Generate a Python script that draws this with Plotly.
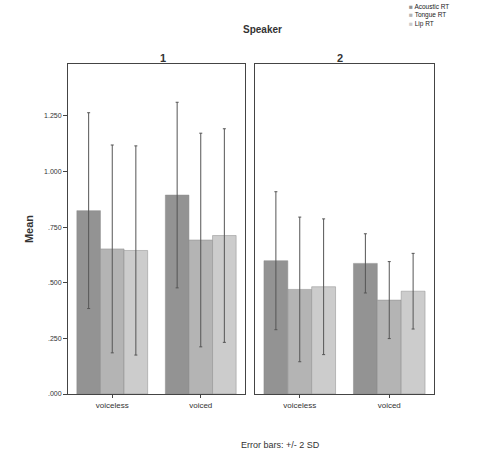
import plotly.graph_objects as go

categories = ["voiceless", "voiced"]
series_names = ["Acoustic RT", "Tongue RT", "Lip RT"]
colors = ["#939393", "#b4b4b4", "#cccccc"]

# Speaker 1 means and 2*SD
s1_acoustic = [0.824, 0.894]
s1_tongue = [0.652, 0.692]
s1_lip = [0.645, 0.712]
s1_acoustic_err = [0.44, 0.417]
s1_tongue_err = [0.467, 0.48]
s1_lip_err = [0.47, 0.48]

# Speaker 2 means and 2*SD
s2_acoustic = [0.599, 0.587]
s2_tongue = [0.470, 0.422]
s2_lip = [0.482, 0.462]
s2_acoustic_err = [0.31, 0.133]
s2_tongue_err = [0.325, 0.173]
s2_lip_err = [0.305, 0.17]

ytick_vals = [0, 0.25, 0.5, 0.75, 1.0, 1.25]
ytick_text = [".000", ".250", ".500", ".750", "1.000", "1.250"]

fig = go.Figure()

panels = [
    ("x", "y", [s1_acoustic, s1_tongue, s1_lip], [s1_acoustic_err, s1_tongue_err, s1_lip_err]),
    ("x2", "y2", [s2_acoustic, s2_tongue, s2_lip], [s2_acoustic_err, s2_tongue_err, s2_lip_err]),
]
for xa, ya, vals, errs in panels:
    for name, col, v, e in zip(series_names, colors, vals, errs):
        fig.add_trace(go.Bar(
            x=categories, y=v, name=name, xaxis=xa, yaxis=ya,
            marker=dict(color=col, line=dict(color="#8a8a8a", width=0.5)),
            error_y=dict(type="data", array=e, visible=True, color="#555555",
                         thickness=1, width=1.5),
            showlegend=False, legendgroup=name,
        ))

y_top = 1.483
y_dom = [1 - 394 / 459, 1 - 64 / 459]
axis_common = dict(showline=True, linecolor="#444444", linewidth=1, mirror=True,
                   showgrid=False, zeroline=False)

legend_text = "<br>".join(
    f"<span style='color:{col}'>■</span> {name}" for name, col in zip(series_names, colors))

annotations = [
    dict(text="<b>Speaker</b>", x=262 / 500, y=1 - 22 / 459, xref="paper", yref="paper",
         showarrow=False, font=dict(size=10)),
    dict(text="<b>1</b>", x=158 / 500, y=1 - 50 / 459, xref="paper", yref="paper",
         showarrow=False, font=dict(size=11)),
    dict(text="<b>2</b>", x=345 / 500, y=1 - 50 / 459, xref="paper", yref="paper",
         showarrow=False, font=dict(size=11)),
    dict(text="Error bars: +/- 2 SD", x=280 / 500, y=1 - 452 / 459, xref="paper",
         yref="paper", showarrow=False, font=dict(size=9)),
    dict(text=legend_text, x=407 / 500, y=1 - 1 / 459, xref="paper", yref="paper",
         xanchor="left", yanchor="top", align="left", showarrow=False,
         font=dict(size=6.5, color="#222222")),
]

fig.update_layout(
    width=500, height=459,
    margin=dict(l=0, r=0, t=0, b=0, autoexpand=False),
    paper_bgcolor="white", plot_bgcolor="white",
    barmode="group", bargap=0.2, bargroupgap=0,
    showlegend=False,
    font=dict(family="Liberation Sans, Arial, sans-serif", color="#333333"),
    xaxis=dict(domain=[68 / 500, 245 / 500], anchor="y", ticks="outside", ticklen=3,
               tickfont=dict(size=8), **axis_common),
    xaxis2=dict(domain=[255 / 500, 434 / 500], anchor="y2", ticks="outside", ticklen=3,
                tickfont=dict(size=8), **axis_common),
    yaxis=dict(domain=y_dom, anchor="x", range=[0, y_top], tickvals=ytick_vals,
               ticktext=ytick_text, ticks="outside", ticklen=4, tickfont=dict(size=7),
               title=dict(text="<b>Mean</b>", font=dict(size=11), standoff=8), **axis_common),
    yaxis2=dict(domain=y_dom, anchor="x2", range=[0, y_top], showticklabels=False,
                ticks="", **axis_common),
    annotations=annotations,
)

fig.write_html("out.html", config={"displayModeBar": False},
               post_script="document.body.style.margin='0';")
